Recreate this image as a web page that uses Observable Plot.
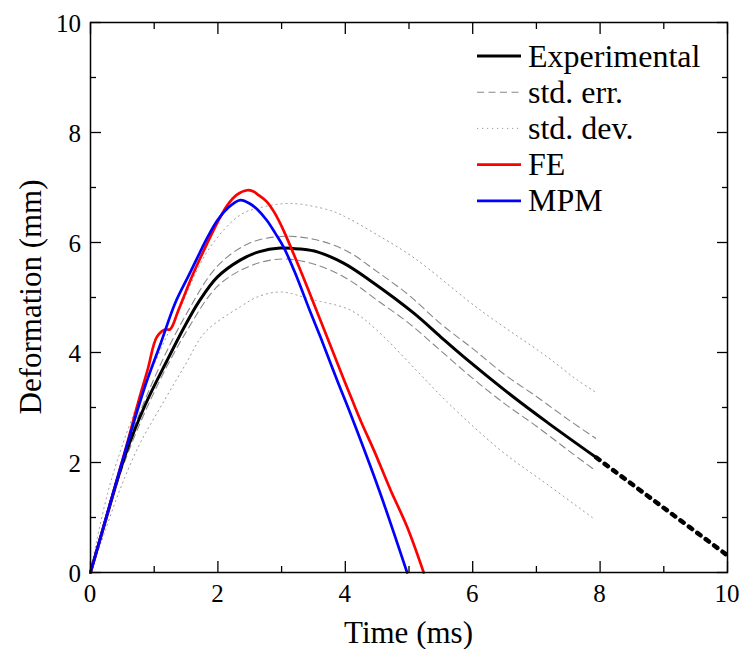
<!DOCTYPE html>
<html>
<head>
<meta charset="utf-8">
<script src="https://cdn.jsdelivr.net/npm/d3@7"></script>
<script src="https://cdn.jsdelivr.net/npm/@observablehq/plot@0.6"></script>
<style>
  html, body { margin: 0; padding: 0; background: #fff; }
  #wrap { position: relative; width: 743px; height: 649px; }
  #overlay { position: absolute; left: 0; top: 0; pointer-events: none; }
</style>
</head>
<body>
<div id="wrap"></div>
<script>
// ---- Data ----
const expT = [0, 0.25, 0.55, 0.86, 1.2, 1.49, 1.7, 1.99, 2.35, 2.64, 2.98, 3.3, 3.56, 3.98, 4.4, 5.08, 5.5, 5.86, 6.64, 7.17, 7.94];
const expY = [0, 1.0, 2.15, 3.05, 3.85, 4.5, 4.92, 5.37, 5.68, 5.83, 5.9, 5.88, 5.83, 5.62, 5.3, 4.71, 4.28, 3.92, 3.19, 2.73, 2.09];

const extT = [7.94, 10];
const extY = [2.09, 0.31];

const errUpT = [0, 0.5, 1.0, 1.5, 2.0, 2.5, 3.0, 3.5, 4.0, 4.5, 5.0, 5.5, 6.0, 6.5, 7.0, 7.5, 7.93];
const errUpY = [0, 2.04, 3.53, 4.69, 5.58, 5.99, 6.11, 6.06, 5.86, 5.47, 5.04, 4.52, 4.07, 3.6, 3.2, 2.78, 2.44];

const errLoT = [0, 0.5, 1.0, 1.5, 2.0, 2.5, 3.0, 3.5, 4.0, 4.5, 5.0, 5.5, 6.0, 6.5, 7.0, 7.5, 7.93];
const errLoY = [0, 1.9, 3.28, 4.37, 5.21, 5.57, 5.7, 5.61, 5.36, 4.95, 4.53, 4.03, 3.53, 3.07, 2.66, 2.22, 1.85];

const devUpT = [0, 0.1, 0.28, 0.49, 0.8, 1.1, 1.4, 1.88, 2.35, 2.62, 3.14, 3.77, 4.03, 4.5, 5.08, 6.12, 7.17, 7.64, 7.93];
const devUpY = [0, 0.59, 1.49, 2.28, 3.25, 4.05, 4.8, 5.92, 6.5, 6.62, 6.71, 6.58, 6.45, 6.14, 5.72, 4.77, 3.92, 3.5, 3.28];

const devLoT = [0, 0.18, 0.46, 0.77, 1.12, 1.49, 1.8, 2.35, 2.64, 3.0, 3.45, 4.08, 4.5, 5.08, 5.6, 6.44, 7.22, 7.9];
const devLoY = [0, 0.59, 1.5, 2.33, 3.05, 3.78, 4.37, 4.83, 5.02, 5.1, 4.97, 4.77, 4.4, 3.72, 3.1, 2.22, 1.56, 0.98];

const feT = [0, 0.3, 0.6, 0.75, 0.9, 1.04, 1.17, 1.25, 1.38, 1.6, 1.83, 2.0, 2.15, 2.3, 2.46, 2.55, 2.64, 2.77, 2.9, 3.03, 3.3, 3.55, 3.98, 4.11, 4.26, 4.45, 4.71, 4.97, 5.23];
const feY = [0, 1.22, 2.45, 3.1, 3.7, 4.28, 4.42, 4.42, 4.77, 5.4, 5.98, 6.38, 6.68, 6.87, 6.95, 6.93, 6.86, 6.74, 6.52, 6.22, 5.48, 4.76, 3.5, 3.13, 2.71, 2.22, 1.5, 0.83, 0];

const mpmT = [0, 0.3, 0.6, 0.86, 1.1, 1.33, 1.55, 1.73, 1.83, 1.99, 2.15, 2.35, 2.51, 2.62, 2.77, 2.9, 3.03, 3.2, 3.45, 3.61, 3.87, 4.11, 4.53, 4.97];
const mpmY = [0, 1.22, 2.42, 3.4, 4.16, 4.9, 5.42, 5.85, 6.08, 6.4, 6.62, 6.77, 6.7, 6.6, 6.4, 6.17, 5.92, 5.48, 4.74, 4.28, 3.5, 2.8, 1.5, 0];

const xMajor = [0, 2, 4, 6, 8, 10];
const xMinor = [1, 3, 5, 7, 9];
const yMajor = [0, 2, 4, 6, 8, 10];
const yMinor = [1, 3, 5, 7, 9];

const xTitle = "Time (ms)";
const yTitle = "Deformation (mm)";
const legendLabels = ["Experimental", "std. err.", "std. dev.", "FE", "MPM"];

// ---- build tables ----
const pts = (T, Y) => T.map((t, i) => ({t, v: Y[i]}));
const FONT = "Liberation Serif";

const lineOpts = (extra) => Object.assign({x: "t", y: "v", curve: "catmull-rom"}, extra);

const chart = Plot.plot({
  width: 743,
  height: 649,
  marginLeft: 90,
  marginRight: 16,
  marginTop: 22,
  marginBottom: 77,
  style: {color: "black", background: "white", overflow: "visible"},
  x: {domain: [0, 10]},
  y: {domain: [0, 10]},
  marks: [
    Plot.line(pts(devUpT, devUpY), lineOpts({stroke: "#9a9a9a", strokeWidth: 1, strokeDasharray: "1.2 3.8"})),
    Plot.line(pts(devLoT, devLoY), lineOpts({stroke: "#9a9a9a", strokeWidth: 1, strokeDasharray: "1.2 3.8"})),
    Plot.line(pts(errUpT, errUpY), lineOpts({stroke: "#888", strokeWidth: 1.1, strokeDasharray: "7 4.5"})),
    Plot.line(pts(errLoT, errLoY), lineOpts({stroke: "#888", strokeWidth: 1.1, strokeDasharray: "7 4.5"})),
    Plot.line(pts(expT, expY), lineOpts({stroke: "black", strokeWidth: 3})),
    Plot.line(pts(extT, extY), lineOpts({stroke: "black", strokeWidth: 4.5, strokeDasharray: "4 6.5", curve: "linear"})),
    Plot.line(pts(feT, feY), lineOpts({stroke: "#ff0000", strokeWidth: 2.7})),
    Plot.line(pts(mpmT, mpmY), lineOpts({stroke: "#0000ff", strokeWidth: 2.7})),
    // inward ticks on all four sides (labels drawn below from the same scales)
    Plot.axisX({anchor: "bottom", ticks: xMajor, tickSize: -11, tickFormat: () => "", label: null, strokeWidth: 1.3}),
    Plot.axisX({anchor: "bottom", ticks: xMinor, tickSize: -6, tickFormat: () => "", label: null, strokeWidth: 1.3}),
    Plot.axisX({anchor: "top", ticks: xMajor, tickSize: -11, tickFormat: () => "", label: null, strokeWidth: 1.3}),
    Plot.axisX({anchor: "top", ticks: xMinor, tickSize: -6, tickFormat: () => "", label: null, strokeWidth: 1.3}),
    Plot.axisY({anchor: "left", ticks: yMajor, tickSize: -11, tickFormat: () => "", label: null, strokeWidth: 1.3}),
    Plot.axisY({anchor: "left", ticks: yMinor, tickSize: -6, tickFormat: () => "", label: null, strokeWidth: 1.3}),
    Plot.axisY({anchor: "right", ticks: yMajor, tickSize: -11, tickFormat: () => "", label: null, strokeWidth: 1.3}),
    Plot.axisY({anchor: "right", ticks: yMinor, tickSize: -6, tickFormat: () => "", label: null, strokeWidth: 1.3}),
    Plot.frame({stroke: "black", strokeWidth: 1.5})
  ]
});

const wrap = document.getElementById("wrap");
wrap.appendChild(chart);

// ---- text overlay (tick labels, titles, legend) positioned with Plot's scales ----
const sx = chart.scale("x");
const sy = chart.scale("y");
const X = v => sx.apply(v);
const Y = v => sy.apply(v);
const [x0, x1] = sx.range;
const [y0, y1] = sy.range;   // y0 = bottom, y1 = top

const ov = d3.select(wrap).append("svg")
  .attr("id", "overlay")
  .attr("width", 743).attr("height", 649);

// x tick labels
ov.append("g").selectAll("text").data(xMajor).join("text")
  .attr("x", d => X(d)).attr("y", y0 + 30)
  .attr("text-anchor", "middle")
  .attr("font-family", FONT).attr("font-size", 25).attr("fill", "black")
  .text(d => String(d));

// y tick labels
ov.append("g").selectAll("text").data(yMajor).join("text")
  .attr("x", x0 - 9).attr("y", d => Y(d) + 9.5)
  .attr("text-anchor", "end")
  .attr("font-family", FONT).attr("font-size", 25).attr("fill", "black")
  .text(d => String(d));

// axis titles
ov.append("text")
  .attr("x", (x0 + x1) / 2).attr("y", y0 + 71)
  .attr("text-anchor", "middle")
  .attr("font-family", FONT).attr("font-size", 31).attr("fill", "black")
  .text(xTitle);
ov.append("text")
  .attr("transform", `translate(${x0 - 49},${(y0 + y1) / 2}) rotate(-90)`)
  .attr("text-anchor", "middle")
  .attr("font-family", FONT).attr("font-size", 31).attr("fill", "black")
  .text(yTitle);

// legend
const legendStyles = [
  {stroke: "black", width: 3, dash: null},
  {stroke: "#888", width: 1.1, dash: "7 4.5"},
  {stroke: "#9a9a9a", width: 1, dash: "1.2 3.8"},
  {stroke: "#ff0000", width: 2.7, dash: null},
  {stroke: "#0000ff", width: 2.7, dash: null}
];
const rowY = i => 56 + i * 36.2;
const g = ov.append("g").selectAll("g").data(legendLabels).join("g")
  .attr("transform", (d, i) => `translate(0,${rowY(i)})`);
g.append("line")
  .attr("x1", 477).attr("x2", 521).attr("y1", 0).attr("y2", 0)
  .attr("stroke", (d, i) => legendStyles[i].stroke)
  .attr("stroke-width", (d, i) => legendStyles[i].width)
  .attr("stroke-dasharray", (d, i) => legendStyles[i].dash);
g.append("text")
  .attr("x", 528).attr("y", 10.5)
  .attr("font-family", FONT)
  .attr("font-size", 32)
  .attr("fill", "black")
  .text(d => d);
</script>
</body>
</html>
